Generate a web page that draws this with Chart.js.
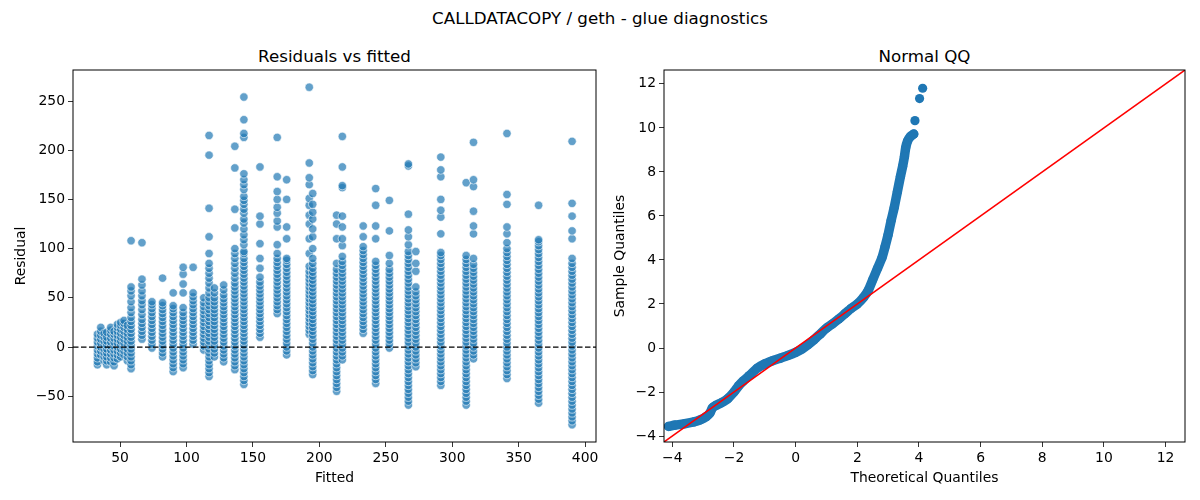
<!DOCTYPE html>
<html>
<head>
<meta charset="utf-8">
<script src="https://cdn.jsdelivr.net/npm/chart.js@4"></script>
<style>
  body { margin: 0; width: 1200px; height: 500px; background: #fff; position: relative; overflow: hidden;
         font-family: "DejaVu Sans", sans-serif; }
  .t { position: absolute; color: #000; white-space: nowrap; transform: translateX(-50%); font-size: 16.7px; }
  .box { position: absolute; top: 40px; height: 460px; }
</style>
</head>
<body>
<div class="t" style="left:600px; top:8px;">CALLDATACOPY / geth - glue diagnostics</div>
<div class="t" style="left:334.5px; top:46px;">Residuals vs fitted</div>
<div class="t" style="left:924.5px; top:46px;">Normal QQ</div>
<div class="box" style="left:0; width:610px;"><canvas id="resid"></canvas></div>
<div class="box" style="left:600px; width:600px;"><canvas id="qq"></canvas></div>

<script>
// tick labels
const residXTicks = [50, 100, 150, 200, 250, 300, 350, 400];
const residYTicks = [-50, 0, 50, 100, 150, 200, 250];
const qqTicks = [-4, -2, 0, 2, 4, 6, 8, 10, 12];

// fitted values (one column of points per fitted value)
const fitted = [33, 35.5, 38, 40, 43, 45.5, 48, 50.5, 53, 55.5, 58.3, 66.5, 74, 82, 90, 97.5, 105, 113, 117, 121,
  128, 136.4, 143.2, 155.3, 168.3, 175.4, 192.4, 195, 213, 217.3, 233, 242.4, 252.7, 267, 272.6, 291.4,
  310.5, 316, 341.2, 365, 390.2];

// residuals read per column
const residuals = [
  [-18, -15, -11, -7, -3, 1, 5, 9, 13],
  [-8, -4, 0, 4, 8, 12, 16, 20],
  [-14, -10, -6, -2, 2, 6, 10, 14],
  [-18, -14, -10, -6, -2, 2, 6, 10, 15],
  [-15, -11, -7, -3, 1, 5, 9, 13, 17, 20],
  [-19, -15, -11, -7, -3, 1, 5, 9, 13, 16],
  [-12, -8, -4, 0, 4, 8, 12, 16, 20, 23],
  [-10, -6, -2, 2, 6, 10, 14, 18, 22, 25],
  [-8, -4, 0, 4, 8, 12, 16, 20, 24, 27],
  [-14, -10, -6, -2, 2, 6, 10, 14, 18, 22],
  [-22, -18, -14, -10, -6, -2, 2, 6, 10, 14, 18, 22, 26, 30, 35, 40, 46, 52, 57, 61, 108],
  [8, 12, 16, 20, 24, 28, 33, 38, 43, 47, 52, 57, 63, 69, 106],
  [-1, 3, 7, 11, 15, 19, 23, 27, 31, 35, 39, 43, 46],
  [-10, -6, -2, 2, 6, 10, 14, 18, 22, 26, 30, 34, 38, 42, 45, 70],
  [-25, -21, -17, -13, -9, -5, -1, 3, 7, 11, 15, 19, 23, 27, 31, 35, 39, 42, 55],
  [-21, -17, -13, -9, -5, -1, 3, 7, 11, 15, 19, 23, 27, 31, 35, 40, 55, 64, 74, 81],
  [3, 7, 11, 15, 19, 23, 27, 31, 35, 39, 43, 47, 51, 55, 81],
  [-3, 1, 5, 9, 13, 17, 21, 25, 29, 33, 37, 41, 45, 50],
  [-30, -26, -22, -18, -14, -10, -6, -2, 2, 6, 10, 14, 18, 22, 26, 30, 34, 38, 42, 46, 50, 55, 60, 65, 70, 75,
   80, 85, 95, 112, 141, 195, 215],
  [-10, -6, -2, 2, 6, 10, 14, 18, 22, 26, 30, 34, 38, 42, 46, 50, 55, 60],
  [-15, -11, -7, -3, 1, 5, 9, 13, 17, 21, 25, 29, 33, 37, 41, 45, 49, 53, 58, 63],
  [-23, -19, -15, -11, -7, -3, 1, 5, 9, 13, 17, 21, 25, 29, 33, 37, 41, 45, 49, 53, 57, 61, 65, 70, 75, 80, 85,
   90, 95, 100, 121, 140, 182, 204],
  [-38, -34, -30, -26, -22, -18, -14, -10, -6, -2, 2, 6, 10, 14, 18, 22, 26, 30, 34, 38, 42, 46, 50, 54, 58, 62,
   66, 70, 74, 78, 82, 86, 90, 95, 97, 104, 109, 114, 120, 126, 130, 136, 140, 145, 149, 153, 160, 165, 170,
   176, 213, 217, 231, 254],
  [10, 14, 18, 22, 26, 30, 34, 38, 42, 46, 50, 54, 58, 62, 66, 71, 80, 90, 105, 125, 133, 183],
  [34, 38, 42, 46, 50, 54, 58, 62, 66, 70, 74, 78, 82, 86, 90, 95, 104, 122, 128, 136, 142, 150, 158, 173, 213],
  [-8, -4, 0, 4, 8, 12, 16, 20, 24, 28, 32, 36, 40, 44, 48, 52, 56, 60, 64, 68, 72, 76, 80, 84, 88, 90, 110,
   122, 150, 170],
  [13, 17, 21, 25, 29, 33, 37, 41, 45, 49, 53, 57, 61, 65, 69, 73, 77, 82, 95, 110, 125, 134, 144, 151, 165,
   172, 187, 264],
  [-28, -24, -20, -16, -12, -8, -4, 0, 4, 8, 12, 16, 20, 24, 28, 32, 36, 40, 44, 48, 52, 56, 60, 64, 68, 72, 76,
   80, 85, 90, 100, 112, 120, 130, 137, 145, 156],
  [-45, -41, -37, -33, -29, -25, -21, -17, -13, -9, -5, -1, 3, 7, 11, 15, 19, 23, 27, 31, 35, 39, 43, 47, 51, 55,
   59, 63, 67, 71, 75, 79, 85, 110, 125, 134],
  [-13, -9, -5, -1, 3, 7, 11, 15, 19, 23, 27, 31, 35, 39, 43, 47, 51, 55, 59, 63, 67, 71, 75, 79, 83, 87, 92,
   103, 110, 122, 133, 162, 164, 183, 214],
  [14, 18, 22, 26, 30, 34, 38, 42, 46, 50, 54, 58, 62, 66, 70, 74, 78, 82, 86, 90, 94, 98, 102, 112, 123],
  [-37, -33, -29, -25, -21, -17, -13, -9, -5, -1, 3, 7, 11, 15, 19, 23, 27, 31, 35, 39, 43, 47, 51, 55, 59, 63,
   67, 71, 75, 79, 83, 87, 110, 123, 144, 161],
  [-1, 3, 7, 11, 15, 19, 23, 27, 31, 35, 39, 43, 47, 51, 55, 59, 63, 67, 71, 75, 79, 85, 93, 118, 149],
  [-59, -55, -51, -47, -43, -39, -35, -31, -27, -23, -19, -15, -11, -7, -3, 1, 5, 9, 13, 17, 21, 25, 29, 33, 37,
   41, 45, 49, 53, 57, 61, 65, 69, 73, 77, 81, 85, 89, 93, 97, 104, 112, 119, 135, 184, 186],
  [-20, -16, -12, -8, -4, 0, 4, 8, 12, 16, 20, 24, 28, 32, 36, 40, 44, 48, 52, 56, 61, 77, 85, 97],
  [-39, -35, -31, -27, -23, -19, -15, -11, -7, -3, 1, 5, 9, 13, 17, 21, 25, 29, 33, 37, 41, 45, 49, 53, 57, 61,
   65, 69, 73, 77, 81, 85, 89, 93, 96, 115, 132, 139, 150, 173, 180, 193],
  [-59, -55, -51, -47, -43, -39, -35, -31, -27, -23, -19, -15, -11, -7, -3, 1, 5, 9, 13, 17, 21, 25, 29, 33, 37,
   41, 45, 49, 53, 57, 61, 65, 69, 73, 77, 81, 85, 89, 93, 167],
  [-12, -8, -4, 0, 4, 8, 12, 16, 20, 24, 28, 32, 36, 40, 44, 48, 52, 56, 60, 64, 68, 72, 76, 80, 84, 90, 115,
   123, 138, 163, 170, 208],
  [-32, -28, -24, -20, -16, -12, -8, -4, 0, 4, 8, 12, 16, 20, 24, 28, 32, 36, 40, 44, 48, 52, 56, 60, 64, 68, 72,
   76, 80, 84, 88, 92, 96, 100, 106, 115, 122, 145, 155, 217],
  [-57, -53, -49, -45, -41, -37, -33, -29, -25, -21, -17, -13, -9, -5, -1, 3, 7, 11, 15, 19, 23, 27, 31, 35, 39,
   43, 47, 51, 55, 59, 63, 67, 71, 75, 79, 83, 87, 91, 95, 99, 103, 107, 109, 144],
  [-79, -75, -71, -67, -63, -59, -55, -51, -47, -43, -39, -35, -31, -27, -23, -19, -15, -11, -7, -3, 1, 5, 9, 13,
   17, 21, 25, 29, 33, 37, 41, 45, 49, 53, 57, 61, 65, 69, 73, 77, 81, 85, 90, 110, 118, 133, 146, 209]
];

// QQ plot: theoretical vs sample quantiles
const qqTheoretical = [-4.12, -3.9, -3.6, -3.3, -3.1, -2.9, -2.78, -2.7, -2.6, -2.4, -2.2, -2.0, -1.85, -1.7,
  -1.5, -1.25, -1.0, -0.75, -0.5, -0.25, 0, 0.2, 0.4, 0.6, 0.8, 1.0, 1.2, 1.4, 1.6, 1.8, 2.0, 2.2, 2.35, 2.5,
  2.65, 2.8, 2.9, 3.0, 3.1, 3.2, 3.3, 3.4, 3.47, 3.53, 3.57, 3.63, 3.72, 3.83];
const qqSample = [-3.56, -3.5, -3.44, -3.36, -3.27, -3.12, -2.95, -2.72, -2.62, -2.48, -2.3, -2.0, -1.72, -1.5,
  -1.25, -0.92, -0.72, -0.58, -0.46, -0.34, -0.2, -0.05, 0.15, 0.38, 0.64, 0.9, 1.1, 1.32, 1.56, 1.8, 2.0, 2.3,
  2.6, 3.1, 3.6, 4.1, 4.6, 5.15, 5.8, 6.4, 7.1, 7.8, 8.25, 8.7, 9.1, 9.4, 9.6, 9.72];
const qqTailTheoretical = [3.87, 4.02, 4.12];
const qqTailSample = [10.33, 11.33, 11.8];

// axis ranges
const residXRange = [14.6, 408.2];
const residYRange = [-96.5, 281.5];
const qqRange = [-4.27, 12.63];

const FONT = '"DejaVu Sans", sans-serif';
const BLUE = '#1f77b4';

const frame = {
  id: 'frame',
  afterDraw(chart) {
    const { ctx, chartArea: a } = chart;
    ctx.save();
    ctx.strokeStyle = '#000';
    ctx.lineWidth = 1;
    ctx.strokeRect(a.left, a.top, a.right - a.left, a.bottom - a.top);
    ctx.restore();
  }
};

const zeroLine = {
  id: 'zeroLine',
  afterDatasetsDraw(chart) {
    const { ctx, chartArea: a, scales } = chart;
    const py = scales.y.getPixelForValue(0);
    ctx.save();
    ctx.strokeStyle = '#000';
    ctx.lineWidth = 1.2;
    ctx.setLineDash([5.5, 2.5]);
    ctx.beginPath();
    ctx.moveTo(a.left, py);
    ctx.lineTo(a.right, py);
    ctx.stroke();
    ctx.restore();
  }
};

const fmt = v => (v < 0 ? '\u2212' + Math.abs(v) : String(v));

function axis(range, ticks, title, size, titlePad, horizontal) {
  return {
    type: 'linear',
    min: range[0],
    max: range[1],
    afterBuildTicks: s => { s.ticks = ticks.map(v => ({ value: v })); },
    afterFit: s => { if (horizontal) s.height = size; else s.width = size; },
    grid: { drawOnChartArea: false, drawTicks: true, tickLength: 5, color: '#000', lineWidth: 0.8 },
    border: { display: false },
    ticks: { color: '#000', font: { family: FONT, size: 13.9 }, padding: 3, autoSkip: false, maxRotation: 0,
             callback: fmt },
    title: { display: true, text: title, color: '#000', font: { family: FONT, size: 13.9 },
             padding: horizontal ? { bottom: titlePad } : { top: titlePad } }
  };
}

const residPoints = [];
fitted.forEach((f, i) => residuals[i].forEach(r => residPoints.push({ x: f, y: r })));

new Chart(document.getElementById('resid'), {
  type: 'scatter',
  data: {
    datasets: [{
      data: residPoints,
      pointRadius: 4.2,
      backgroundColor: 'rgba(31, 119, 180, 0.7)',
      borderColor: 'rgba(255, 255, 255, 0.75)',
      borderWidth: 0.8
    }]
  },
  options: {
    responsive: true,
    maintainAspectRatio: false,
    animation: false,
    layout: { padding: { top: 30, right: 14, left: 0, bottom: 0 } },
    scales: {
      x: axis(residXRange, residXTicks, 'Fitted', 58, 13.7, true),
      y: axis(residYRange, residYTicks, 'Residual', 73, 13, false)
    },
    plugins: { legend: { display: false }, tooltip: { enabled: false } }
  },
  plugins: [zeroLine, frame]
});

const qqBand = qqTheoretical.map((t, i) => ({ x: t, y: qqSample[i] }));
const qqTail = qqTailTheoretical.map((t, i) => ({ x: t, y: qqTailSample[i] }));

new Chart(document.getElementById('qq'), {
  type: 'scatter',
  data: {
    datasets: [
      { // 45 degree reference line
        data: [{ x: qqRange[0], y: qqRange[0] }, { x: qqRange[1], y: qqRange[1] }],
        showLine: true, borderColor: '#ff0000', borderWidth: 1.5, pointRadius: 0
      },
      {
        data: qqBand,
        showLine: true, borderColor: BLUE, borderWidth: 9.5, tension: 0.2,
        borderCapStyle: 'round', borderJoinStyle: 'round',
        pointRadius: 4.6, backgroundColor: BLUE, pointBorderWidth: 0
      },
      {
        data: qqTail,
        pointRadius: 4.6, backgroundColor: BLUE, borderColor: BLUE, borderWidth: 0
      }
    ]
  },
  options: {
    responsive: true,
    maintainAspectRatio: false,
    animation: false,
    layout: { padding: { top: 30, right: 15, left: 0, bottom: 0 } },
    scales: {
      x: axis(qqRange, qqTicks, 'Theoretical Quantiles', 58, 13.7, true),
      y: axis(qqRange, qqTicks, 'Sample Quantiles', 64, 11.7, false)
    },
    plugins: { legend: { display: false }, tooltip: { enabled: false } }
  },
  plugins: [frame]
});
</script>
</body>
</html>
